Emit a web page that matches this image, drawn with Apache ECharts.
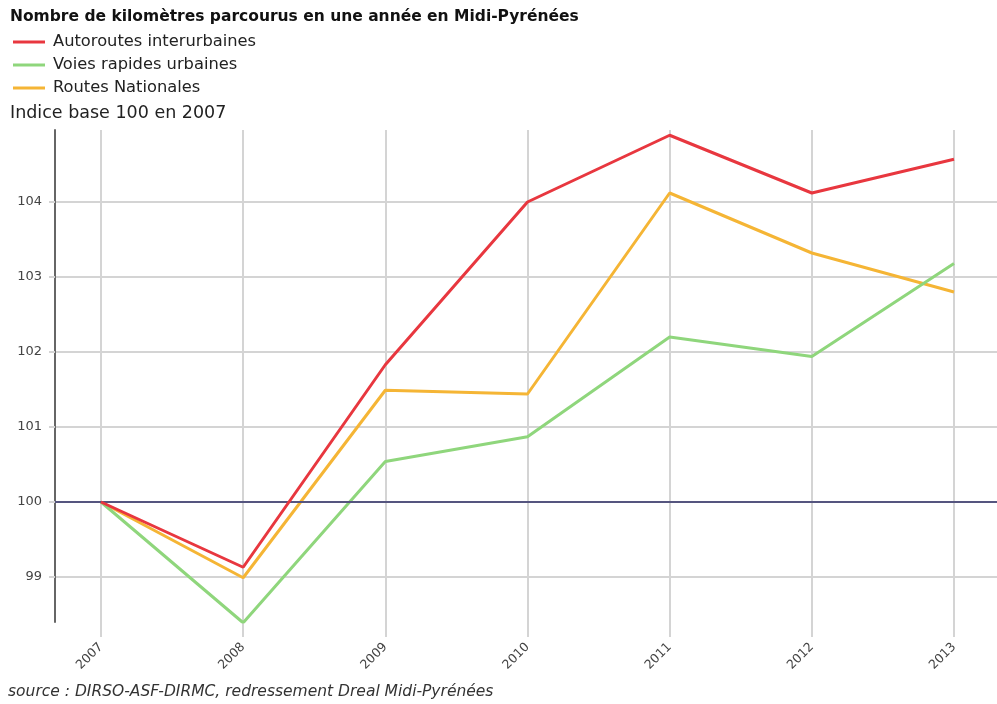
<!DOCTYPE html>
<html>
<head>
<meta charset="utf-8">
<script src="https://cdn.jsdelivr.net/npm/echarts@6/dist/echarts.min.js"></script>
<style>
  html, body { margin: 0; padding: 0; background: #fff; }
  #chart { width: 997px; height: 704px; }
</style>
</head>
<body>
<div id="chart"></div>
<script>
// Années et indices (base 100 en 2007)
const years = [2007, 2008, 2009, 2010, 2011, 2012, 2013];
const autoroutes = [100, 99.13, 101.83, 104.0, 104.89, 104.12, 104.57];
const voiesRapides = [100, 98.39, 100.54, 100.87, 102.2, 101.94, 103.18];
const routesNationales = [100, 98.99, 101.49, 101.44, 104.12, 103.32, 102.80];
const yTicks = [99, 100, 101, 102, 103, 104];

const seriesNames = ['Autoroutes interurbaines', 'Voies rapides urbaines', 'Routes Nationales'];
const seriesColors = ['#e8373f', '#8fd67c', '#f5b535'];

const pairs = arr => years.map((y, i) => [y, arr[i]]);

const chart = echarts.init(document.getElementById('chart'));
const font = '"DejaVu Sans", Verdana, sans-serif';

chart.setOption({
  animation: false,
  textStyle: { fontFamily: font },
  title: {
    text: 'Nombre de kilomètres parcourus en une année en Midi-Pyrénées',
    left: 5, top: 4,
    textStyle: { fontFamily: font, fontSize: 15.5, fontWeight: 'bold', color: '#111' }
  },
  legend: {
    orient: 'vertical',
    left: 13, top: 34, padding: 0,
    itemWidth: 32, itemHeight: 3, itemGap: 7,
    icon: 'rect',
    data: seriesNames,
    textStyle: { fontFamily: font, fontSize: 16.3, lineHeight: 16, color: '#222', padding: [0, 0, 0, 3] }
  },
  graphic: [
    { type: 'text', left: 10, top: 104, style: { text: 'Indice base 100 en 2007', font: '17.5px ' + font, fill: '#222' } },
    { type: 'text', left: 8, top: 684, style: { text: 'source : DIRSO-ASF-DIRMC, redressement Dreal Midi-Pyrénées', font: 'italic 15.5px ' + font, fill: '#333' } }
  ],
  grid: { left: 55, right: 0, top: 130, bottom: 82 },
  xAxis: {
    type: 'value',
    min: 2006.6765, max: 2013.3025,
    axisLine: { show: false },
    axisTick: { show: true, customValues: years, length: 15, lineStyle: { color: '#d4d4d4', width: 2 } },
    splitLine: { show: true, lineStyle: { color: '#d4d4d4', width: 2 } },
    axisLabel: {
      customValues: years, rotate: 45, margin: 23,
      formatter: v => String(v),
      fontFamily: font, fontSize: 12.5, color: '#444'
    }
  },
  yAxis: {
    type: 'value',
    min: 98.4, max: 104.96,
    axisLine: { show: true, lineStyle: { color: '#666', width: 2 } },
    axisTick: { show: true, customValues: yTicks, length: 6, lineStyle: { color: '#d4d4d4', width: 2 } },
    splitLine: { show: true, lineStyle: { color: '#d4d4d4', width: 2 } },
    axisLabel: {
      customValues: yTicks, margin: 13,
      fontFamily: font, fontSize: 13, color: '#444'
    }
  },
  series: [
    {
      name: seriesNames[2], type: 'line', data: pairs(routesNationales),
      showSymbol: false, color: seriesColors[2], lineStyle: { width: 3 }, z: 3,
      markLine: {
        silent: true, symbol: 'none', label: { show: false },
        lineStyle: { color: '#55557f', width: 2, type: 'solid' },
        data: [{ yAxis: 100 }]
      }
    },
    {
      name: seriesNames[1], type: 'line', data: pairs(voiesRapides),
      showSymbol: false, color: seriesColors[1], lineStyle: { width: 3 }, z: 4
    },
    {
      name: seriesNames[0], type: 'line', data: pairs(autoroutes),
      showSymbol: false, color: seriesColors[0], lineStyle: { width: 3 }, z: 5
    }
  ]
});
</script>
</body>
</html>
